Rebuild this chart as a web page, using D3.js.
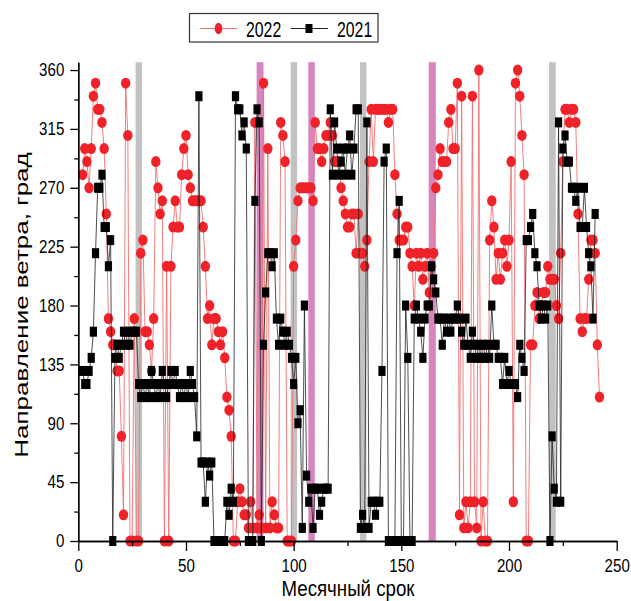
<!DOCTYPE html>
<html>
<head>
<meta charset="utf-8">
<script src="https://cdn.jsdelivr.net/npm/d3@7"></script>
<style>
  body { margin: 0; background: #fff; }
  text { font-family: "Liberation Sans", Arial, sans-serif; fill: #000; }
</style>
</head>
<body>
<svg id="chart" width="631" height="601"></svg>
<script>
// first observation sits at x = 2, one value per step
var startX = 2;

// 2022, wind direction in degrees
var dir2022 = [
  280,300,290,270,300,340,350,330,330,320,300,250,170,160,150,150,130,130,80,20,
  350,310,0,0,170,0,0,220,230,160,160,150,130,170,290,270,250,260,0,210,
  0,210,240,260,240,240,280,300,310,280,270,260,260,260,260,260,240,210,170,180,
  150,170,170,160,150,160,140,110,100,80,0,0,30,40,30,20,20,10,30,10,
  320,10,20,10,350,10,300,10,30,20,10,10,320,310,290,0,0,0,210,230,
  260,270,270,270,270,270,270,260,320,300,300,290,300,310,310,320,310,290,290,290,
  270,260,250,240,240,250,250,220,250,220,220,210,230,290,330,290,330,330,330,330,
  330,330,320,330,330,280,250,230,230,230,240,240,220,210,180,220,210,220,200,210,
  220,190,210,220,270,280,300,290,290,290,320,330,300,300,350,20,340,10,30,10,
  30,340,30,10,360,0,30,0,0,230,260,240,200,220,200,220,230,210,230,290,
  30,350,360,340,310,280,0,0,150,150,180,190,170,180,190,190,210,200,200,200,
  180,170,220,290,330,330,320,330,330,320,250,170,160,170,170,200,230,230,220,150,
  110
];

// 2021, wind direction in degrees
var dir2021 = [
  130,120,120,130,140,160,220,270,270,280,240,240,210,230,0,140,150,140,150,160,
  150,160,150,160,160,160,120,110,120,110,120,110,130,120,110,120,110,130,120,110,
  120,130,120,130,120,110,120,110,120,110,130,120,110,80,340,60,60,30,60,50,
  60,0,0,0,0,0,0,30,20,40,30,340,330,330,310,320,300,0,0,0,
  260,330,320,0,150,190,220,220,210,220,170,150,170,160,150,160,150,140,120,140,
  90,100,10,180,50,30,40,10,40,40,20,30,40,40,40,330,280,320,300,280,
  290,300,280,300,310,280,300,330,330,10,20,10,320,10,30,30,20,30,30,130,
  290,300,0,0,0,0,220,260,0,0,180,140,0,0,170,180,170,160,140,170,
  180,180,210,200,190,170,170,150,170,160,170,160,170,170,180,170,160,150,170,150,
  140,160,150,140,150,140,150,140,150,140,180,150,150,140,140,120,140,120,130,120,
  120,120,110,150,140,130,230,230,240,250,220,210,180,170,180,170,180,0,80,40,
  30,320,30,300,310,290,290,270,270,260,270,240,240,270,240,220,210,170,250
];

// highlighted periods on the x axis
var bandStart = [26.6, 82.8, 98.6, 106.8, 130.8, 162.7, 218.6];
var bandEnd   = [29.6, 86.0, 101.6, 109.8, 133.8, 166.0, 221.7];
var bandKind  = ["gray", "pink", "gray", "pink", "gray", "pink", "gray"];

var xTicks = [0, 50, 100, 150, 200, 250];
var xMinor = [25, 75, 125, 175, 225];
var yTicks = [0, 45, 90, 135, 180, 225, 270, 315, 360];
var yMinor = [22.5, 67.5, 112.5, 157.5, 202.5, 247.5, 292.5, 337.5];

var seriesNames = ["2022", "2021"];

var svg = d3.select("#chart");

var x = d3.scaleLinear().domain([0, 250]).range([78.3, 616.7]);
var y = d3.scaleLinear().domain([0, 366]).range([541, 62.2]);

// the source picture is squeezed sideways, so text is too
var squeeze = 0.72;

// bands go under everything
svg.append("g").selectAll("rect")
  .data(bandStart)
  .enter().append("rect")
  .attr("x", function(d) { return x(d); })
  .attr("width", function(d, i) { return x(bandEnd[i]) - x(d); })
  .attr("y", y(366))
  .attr("height", y(0) - y(366))
  .style("fill", function(d, i) { return bandKind[i] == "gray" ? "#c2c2c2" : "#d884bd"; });

var pts2022 = dir2022.map(function(v, i) { return [startX + i, v]; });
var pts2021 = dir2021.map(function(v, i) { return [startX + i, v]; });

var line = d3.line()
  .x(function(d) { return x(d[0]); })
  .y(function(d) { return y(d[1]); });

// 2022
svg.append("path")
  .datum(pts2022)
  .attr("d", line)
  .style("fill", "none")
  .style("stroke", "#f27070")
  .style("stroke-width", 0.9);

svg.append("g").selectAll("ellipse")
  .data(pts2022)
  .enter().append("ellipse")
  .attr("cx", function(d) { return x(d[0]); })
  .attr("cy", function(d) { return y(d[1]); })
  .attr("rx", 4.7)
  .attr("ry", 5.5)
  .style("fill", "#ee2228");

// 2021
svg.append("path")
  .datum(pts2021)
  .attr("d", line)
  .style("fill", "none")
  .style("stroke", "#222")
  .style("stroke-width", 0.8);

svg.append("g").selectAll("rect")
  .data(pts2021)
  .enter().append("rect")
  .attr("x", function(d) { return x(d[0]) - 3.6; })
  .attr("y", function(d) { return y(d[1]) - 5; })
  .attr("width", 7.2)
  .attr("height", 10)
  .style("fill", "#000");

// axes
function styleAxis(g) {
  g.select(".domain").style("stroke", "#000").style("stroke-width", 1.3);
  g.selectAll(".tick line").style("stroke", "#000").style("stroke-width", 1.3);
}

var tickSqueeze = 0.84;

var yAxis = svg.append("g")
  .attr("transform", "translate(" + x(0) + ",0)")
  .call(d3.axisLeft(y).tickValues(yTicks).tickSize(8).tickSizeOuter(0).tickPadding(6));
yAxis.call(styleAxis);
yAxis.selectAll("text")
  .style("font-size", "18px")
  .attr("x", function() { return +this.getAttribute("x") / tickSqueeze; })
  .attr("transform", "scale(" + tickSqueeze + ",1)");

svg.append("g")
  .attr("transform", "translate(" + x(0) + ",0)")
  .call(d3.axisLeft(y).tickValues(yMinor).tickSize(4).tickSizeOuter(0).tickFormat(""))
  .call(styleAxis);

var xAxis = svg.append("g")
  .attr("transform", "translate(0," + y(0) + ")")
  .call(d3.axisBottom(x).tickValues(xTicks).tickSize(10).tickSizeOuter(0).tickPadding(8));
xAxis.call(styleAxis);
xAxis.selectAll("text")
  .style("font-size", "18px")
  .attr("transform", "scale(" + tickSqueeze + ",1)");

svg.append("g")
  .attr("transform", "translate(0," + y(0) + ")")
  .call(d3.axisBottom(x).tickValues(xMinor).tickSize(5).tickSizeOuter(0).tickFormat(""))
  .call(styleAxis);

// axis titles
svg.append("text")
  .attr("transform", "translate(348,596) scale(0.85,1)")
  .attr("text-anchor", "middle")
  .style("font-size", "22px")
  .text("Месячный срок");

svg.append("text")
  .attr("transform", "translate(28,305) scale(" + squeeze + ",1) rotate(-90)")
  .attr("text-anchor", "middle")
  .style("font-size", "26px")
  .text("Направление ветра, град");

// legend
var legend = svg.append("g");
legend.append("rect")
  .attr("x", 189.5).attr("y", 13.5)
  .attr("width", 188.5).attr("height", 28.5)
  .style("fill", "#fff")
  .style("stroke", "#333")
  .style("stroke-width", 1.2);

var legendX = [200, 291];
seriesNames.forEach(function(name, i) {
  var lx = legendX[i];
  legend.append("line")
    .attr("x1", lx).attr("x2", lx + 37)
    .attr("y1", 28.5).attr("y2", 28.5)
    .style("stroke", i == 0 ? "#f27070" : "#222")
    .style("stroke-width", 1);
  if (i == 0) {
    legend.append("ellipse")
      .attr("cx", lx + 18.5).attr("cy", 28.5)
      .attr("rx", 3.8).attr("ry", 5.8)
      .style("fill", "#ee2228");
  } else {
    legend.append("rect")
      .attr("x", lx + 14.5).attr("y", 24)
      .attr("width", 7).attr("height", 9)
      .style("fill", "#000");
  }
  legend.append("text")
    .attr("transform", "translate(" + (lx + 46) + ",37) scale(" + squeeze + ",1)")
    .style("font-size", "22px")
    .text(name);
});
</script>
</body>
</html>
